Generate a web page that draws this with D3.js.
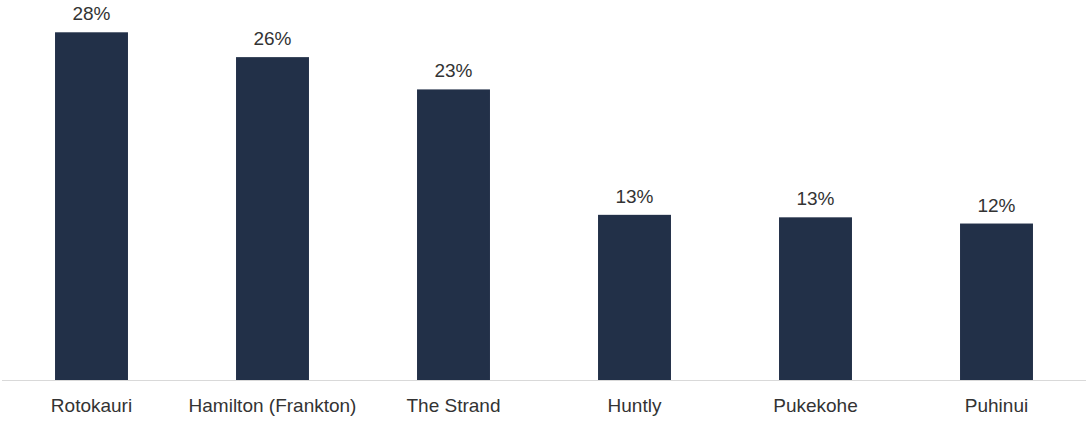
<!DOCTYPE html>
<html>
<head>
<meta charset="utf-8">
<script src="https://cdn.jsdelivr.net/npm/d3@7"></script>
<style>
  html, body { margin: 0; padding: 0; background: #fff; }
  svg { display: block; font-family: "Liberation Sans", Arial, sans-serif; }
</style>
</head>
<body>
<div id="chart"></div>
<script>
// categories + share values (%)
const categories = ['Rotokauri', 'Hamilton (Frankton)', 'The Strand', 'Huntly', 'Pukekohe', 'Puhinui'];
const shares     = [28.0, 26.0, 23.4, 13.3, 13.1, 12.6];

const W = 1086, H = 421;
const baseline = 380;

const svg = d3.select('#chart').append('svg').attr('width', W).attr('height', H);

const x = d3.scaleBand().domain(categories).range([1, 1087])
  .paddingInner(0.597).paddingOuter(0.2985);
const y = d3.scaleLinear().domain([0, 30.6]).range([baseline, 0]);

const data = categories.map((c, i) => ({ cat: c, v: shares[i] }));

svg.append('g').selectAll('rect').data(data).join('rect')
  .attr('x', d => x(d.cat))
  .attr('y', d => y(d.v))
  .attr('width', x.bandwidth())
  .attr('height', d => baseline - y(d.v))
  .attr('fill', '#223048');

// labels are shown truncated to whole percent
svg.append('g').selectAll('text').data(data).join('text')
  .attr('x', d => x(d.cat) + x.bandwidth() / 2)
  .attr('y', d => y(d.v) - 12)
  .attr('text-anchor', 'middle')
  .attr('font-size', 19)
  .attr('fill', '#333')
  .text(d => Math.floor(d.v) + '%');

// x axis: light rule, no ticks
const xAxis = svg.append('g').attr('transform', `translate(0,${baseline})`)
  .call(d3.axisBottom(x).tickSize(0).tickPadding(19));
xAxis.select('.domain').attr('d', `M2,0.5H${W}`).attr('stroke', '#d9d9d9').attr('stroke-width', 1);
xAxis.selectAll('text').attr('font-size', 19).attr('fill', '#333')
  .attr('font-family', '"Liberation Sans", Arial, sans-serif');
</script>
</body>
</html>
